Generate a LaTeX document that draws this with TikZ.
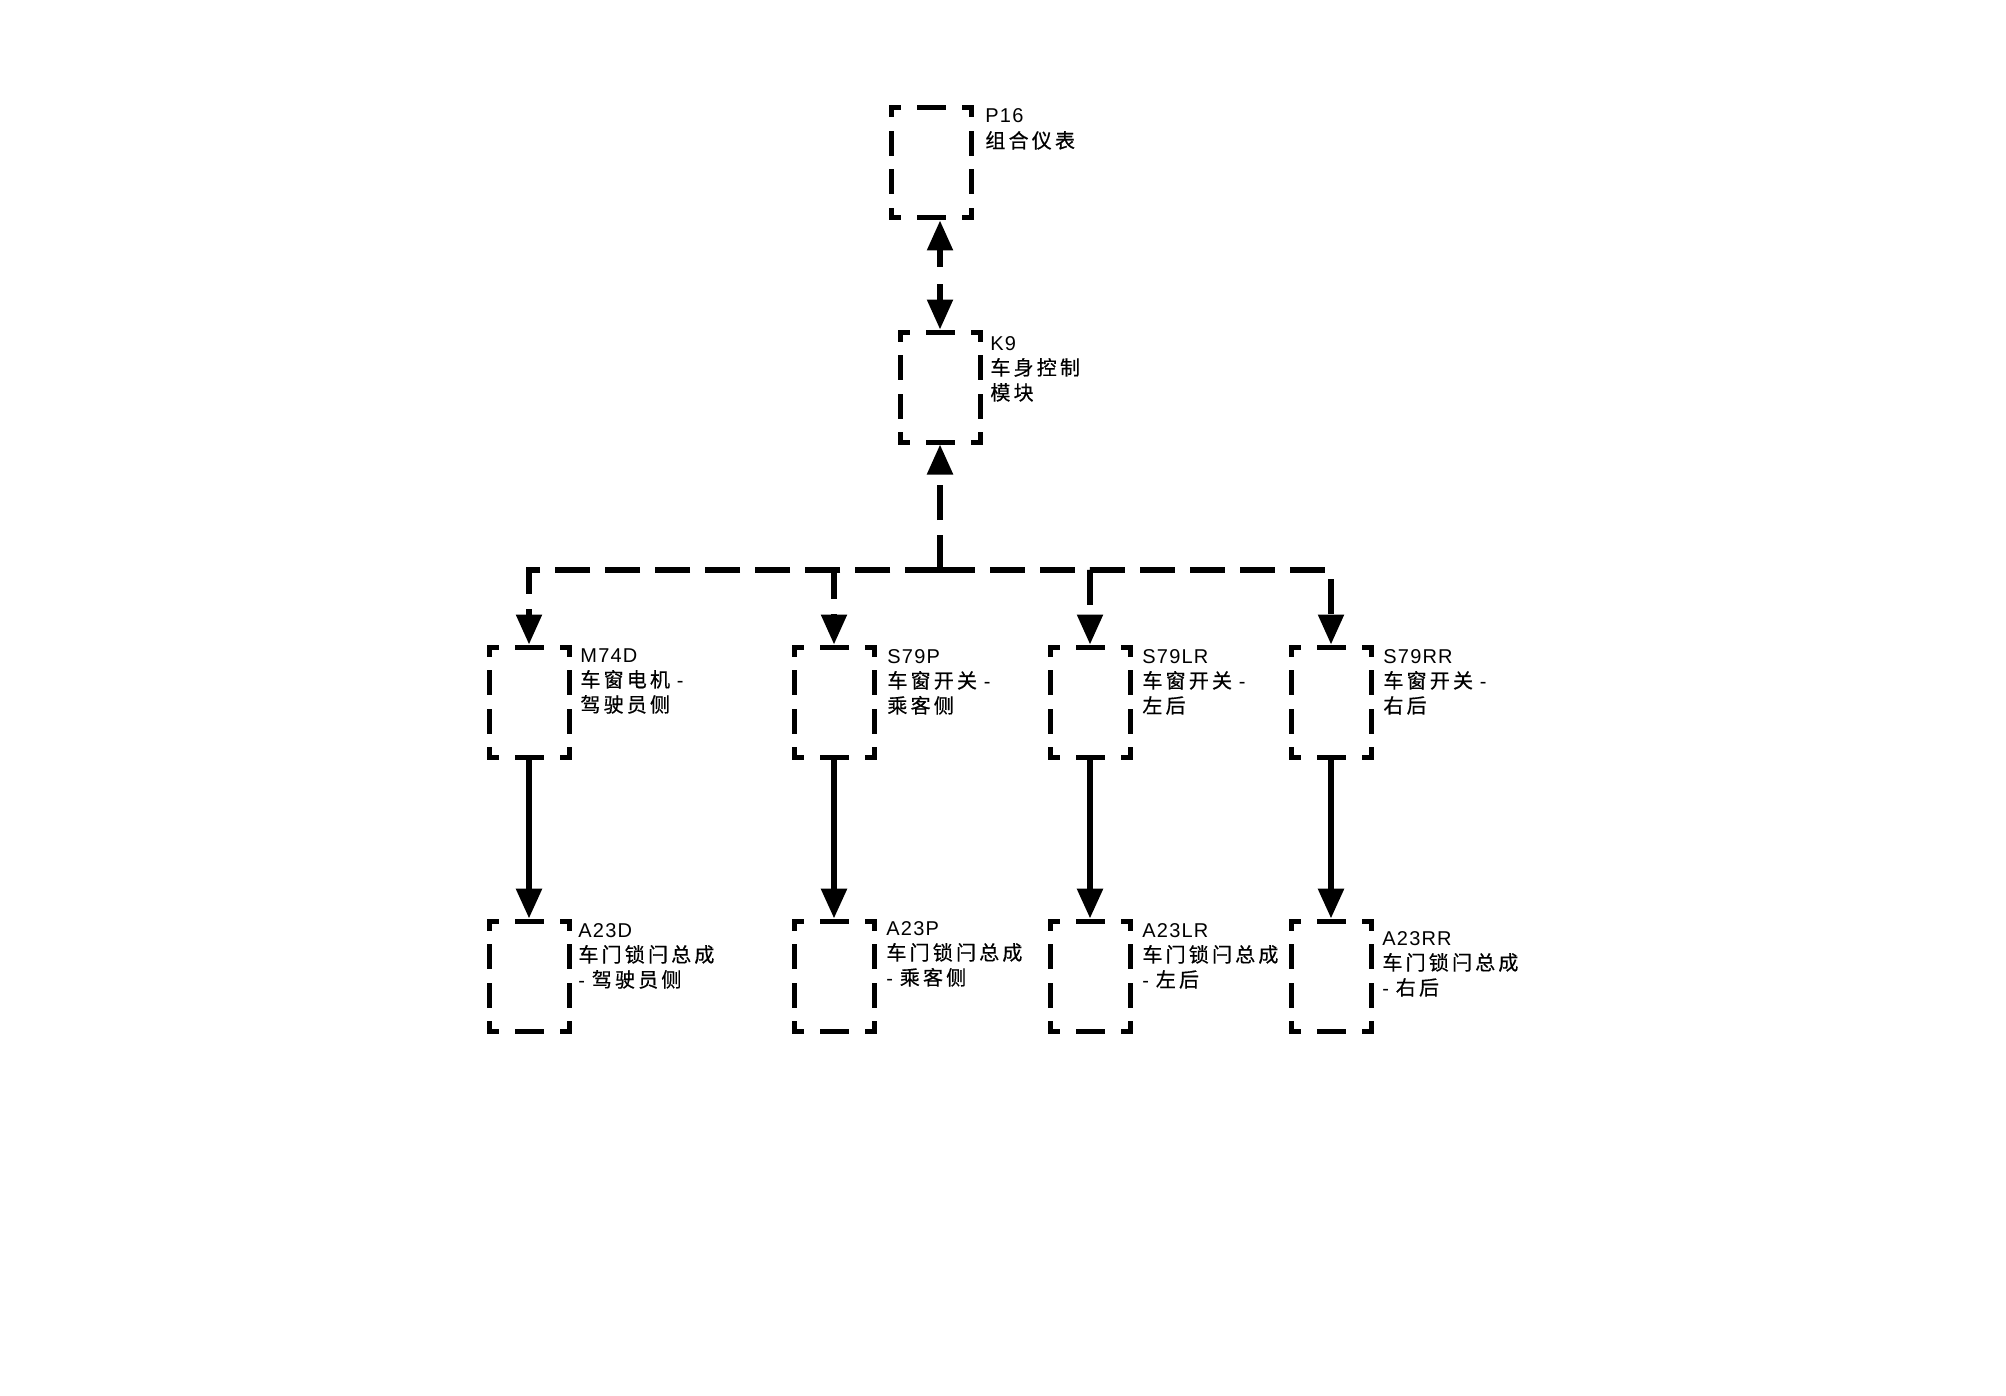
\documentclass[tikz,border=0pt]{standalone}
\usepackage{fontspec}
\setmainfont{Liberation Sans}[LetterSpace=6]
\newfontfamily\cjk{Noto Sans CJK SC}[LetterSpace=16,Scale=1.0,FakeBold=0.6]
\usetikzlibrary{arrows.meta}
\newcommand\lblines[1]{\begin{tabular}[t]{@{}l@{}}#1\end{tabular}}
\begin{document}
\begin{tikzpicture}[x=0.5pt,y=-0.5pt,
  box/.style={rectangle,minimum width=40pt,minimum height=55pt,inner sep=0pt,outer sep=0pt},
  vside/.style={line width=2.5pt,line cap=rect,dash pattern=on 3.5pt off 9.25pt on 10pt off 9.25pt on 10pt off 9.25pt on 3.75pt},
  hside/.style={line width=2.5pt,line cap=rect,dash pattern=on 3.5pt off 10.5pt on 12pt off 10.5pt on 3.5pt},
  lbl/.style={anchor=base west,inner sep=0pt,font=\fontsize{10pt}{12.5pt}\selectfont},
  tip/.style={-{Triangle[length=15pt,width=12.5pt]}},
  link/.style={line width=2.75pt,dash pattern=on 17.5pt off 7.5pt,tip,shorten >=1.25pt},
  solidlink/.style={line width=3pt,tip,shorten >=1.25pt,shorten <=1.25pt},
]
\useasboundingbox (0,0) rectangle (2006,1396);

% boxes
\node[box] (p16)  at (931,163) {};
\node[box] (k9)   at (940,387) {};
\node[box] (m74d) at (529,702) {};
\node[box] (s79p) at (834,702) {};
\node[box] (s79lr) at (1090,702) {};
\node[box] (s79rr) at (1331,702) {};
\node[box] (a23d) at (529,976) {};
\node[box] (a23p) at (834,976) {};
\node[box] (a23lr) at (1090,976) {};
\node[box] (a23rr) at (1331,976) {};

\foreach \n in {p16,k9,m74d,s79p,s79lr,s79rr,a23d,a23p,a23lr,a23rr}{
  \draw[vside] (\n.north west) -- (\n.south west);
  \draw[vside] (\n.north east) -- (\n.south east);
  \draw[hside] (\n.north west) -- (\n.north east);
  \draw[hside] (\n.south west) -- (\n.south east);
}

% labels
\node[lbl] (tp16) at (985,123) {\lblines{P16\\{\cjk 组合仪表}}};
\node[lbl] (tk9) at (990,350) {\lblines{K9\\{\cjk 车身控制}\\{\cjk 模块}}};
\node[lbl] (tm74d) at (580,662) {\lblines{M74D\\{\cjk 车窗电机} -\\{\cjk 驾驶员侧}}};
\node[lbl] (ts79p) at (887,663) {\lblines{S79P\\{\cjk 车窗开关} -\\{\cjk 乘客侧}}};
\node[lbl] (ts79lr) at (1142,663) {\lblines{S79LR\\{\cjk 车窗开关} -\\{\cjk 左后}}};
\node[lbl] (ts79rr) at (1383,663) {\lblines{S79RR\\{\cjk 车窗开关} -\\{\cjk 右后}}};
\node[lbl] (ta23d) at (578,937) {\lblines{A23D\\{\cjk 车门锁闩总成}\\- {\cjk 驾驶员侧}}};
\node[lbl] (ta23p) at (886,935) {\lblines{A23P\\{\cjk 车门锁闩总成}\\- {\cjk 乘客侧}}};
\node[lbl] (ta23lr) at (1142,937) {\lblines{A23LR\\{\cjk 车门锁闩总成}\\- {\cjk 左后}}};
\node[lbl] (ta23rr) at (1382,945) {\lblines{A23RR\\{\cjk 车门锁闩总成}\\- {\cjk 右后}}};

% connectors
\draw[link,{Triangle[length=15pt,width=12.5pt]}-{Triangle[length=15pt,width=12.5pt]},dash pattern=on 8.5pt off 8.5pt,shorten <=1.25pt]
  (k9.north) -- (k9.north |- p16.south);
\coordinate (J) at (940,570);
\draw[link] (J) -- (k9.south);
\draw[link] (J) -| (m74d.north);
\draw[link] (J) -| (s79p.north);
\draw[link] (J) -| (s79lr.north);
\draw[link] (J) -| (s79rr.north);

\draw[solidlink] (m74d.south) -- (a23d.north);
\draw[solidlink] (s79p.south) -- (a23p.north);
\draw[solidlink] (s79lr.south) -- (a23lr.north);
\draw[solidlink] (s79rr.south) -- (a23rr.north);
\end{tikzpicture}
\end{document}
